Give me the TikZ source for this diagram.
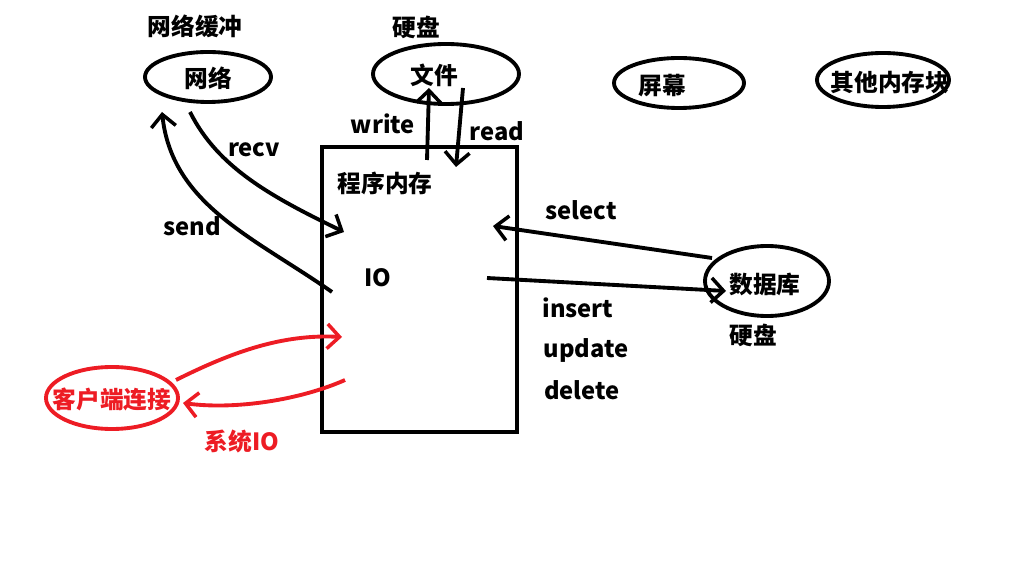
\documentclass[tikz,border=0pt]{standalone}
\usepackage{fontspec}
\setmainfont{Noto Sans CJK SC}
\usetikzlibrary{arrows.meta}
\definecolor{pred}{HTML}{ED1C24}
\begin{document}
\begin{tikzpicture}[x=0.02cm,y=-0.02cm,
  lbl/.style={font=\fontsize{13.5}{15}\selectfont\bfseries, inner sep=0pt},
  ln/.style={line width=2.2pt},
  arr/.style={ln, -{Straight Barb[length=7pt,width=14pt,line width=2pt]}},
]
\useasboundingbox (0,0) rectangle (1018,577);
% ovals
\draw[ln] (208,77) ellipse [x radius=63, y radius=25];
\node[lbl] (wl) at (208,78) {网络};
\node[lbl] (wlhc) at (195,26) {网络缓冲};
\draw[ln] (446,74) ellipse [x radius=73, y radius=30];
\node[lbl] (wj) at (434,75) {文件};
\node[lbl] (yp1) at (416,27) {硬盘};
\draw[ln] (679,83) ellipse [x radius=65, y radius=25];
\node[lbl] (pm) at (662,86) {屏幕};
\draw[ln] (883,80) ellipse [x radius=66, y radius=27];
\node[lbl] (qt) at (890,83) {其他内存块};
\draw[ln] (767,281) ellipse [x radius=62, y radius=35];
\node[lbl] (sjk) at (765,284) {数据库};
\node[lbl] (yp2) at (753,335) {硬盘};
% box
\node[draw, ln, minimum width=195*0.02cm, minimum height=285*0.02cm, inner sep=0pt] (box) at (419.5,289.5) {};
\node[lbl] (mem) at (385,183) {程序内存};
\node[lbl] (io) at (378,278) {IO};
% labels
\node[lbl] (lwrite) at (383,124) {write};
\node[lbl] (lread) at (497,131) {read};
\node[lbl] (lrecv) at (254,150) {recv};
\node[lbl] (lsend) at (192,226) {send};
\node[lbl] (lsel) at (581,210) {select};
\node[lbl] (lins) at (578,308) {insert};
\node[lbl] (lupd) at (586,350) {update};
\node[lbl] (ldel) at (582,390) {delete};
% coordinates
\coordinate (w0) at (427,160); \coordinate (w1) at (429,88);
\coordinate (r0) at (463,88); \coordinate (r1) at (456,167);
\coordinate (rc0) at (190,112); \coordinate (rc1) at (344,232);
\coordinate (sd0) at (332,292); \coordinate (sd1) at (162,112);
\coordinate (se0) at (712,258); \coordinate (se1) at (493,226);
\coordinate (in0) at (487,278); \coordinate (in1) at (726,291);
\draw[arr] (w0) -- (w1);
\draw[arr] (r0) -- (r1);
\draw[arr] (rc0) .. controls (218,168) and (272,197) .. (rc1);
\draw[arr] (sd0) .. controls (255,238) and (172,205) .. (sd1);
\draw[arr] (se0) -- (se1);
\draw[arr] (in0) -- (in1);
% red part
\draw[ln, pred] (112,398) ellipse [x radius=66, y radius=31];
\node[lbl, text=pred] (client) at (112,399) {客户端连接};
\node[lbl, text=pred] (sysio) at (242,441) {系统IO};
\coordinate (c0) at (176,380); \coordinate (c1) at (342,337);
\coordinate (d0) at (345,380); \coordinate (d1) at (183,403);
\draw[arr, pred] (c0) .. controls (232,352) and (282,334) .. (c1);
\draw[arr, pred] (d0) .. controls (300,400) and (235,410) .. (d1);
\end{tikzpicture}
\end{document}
